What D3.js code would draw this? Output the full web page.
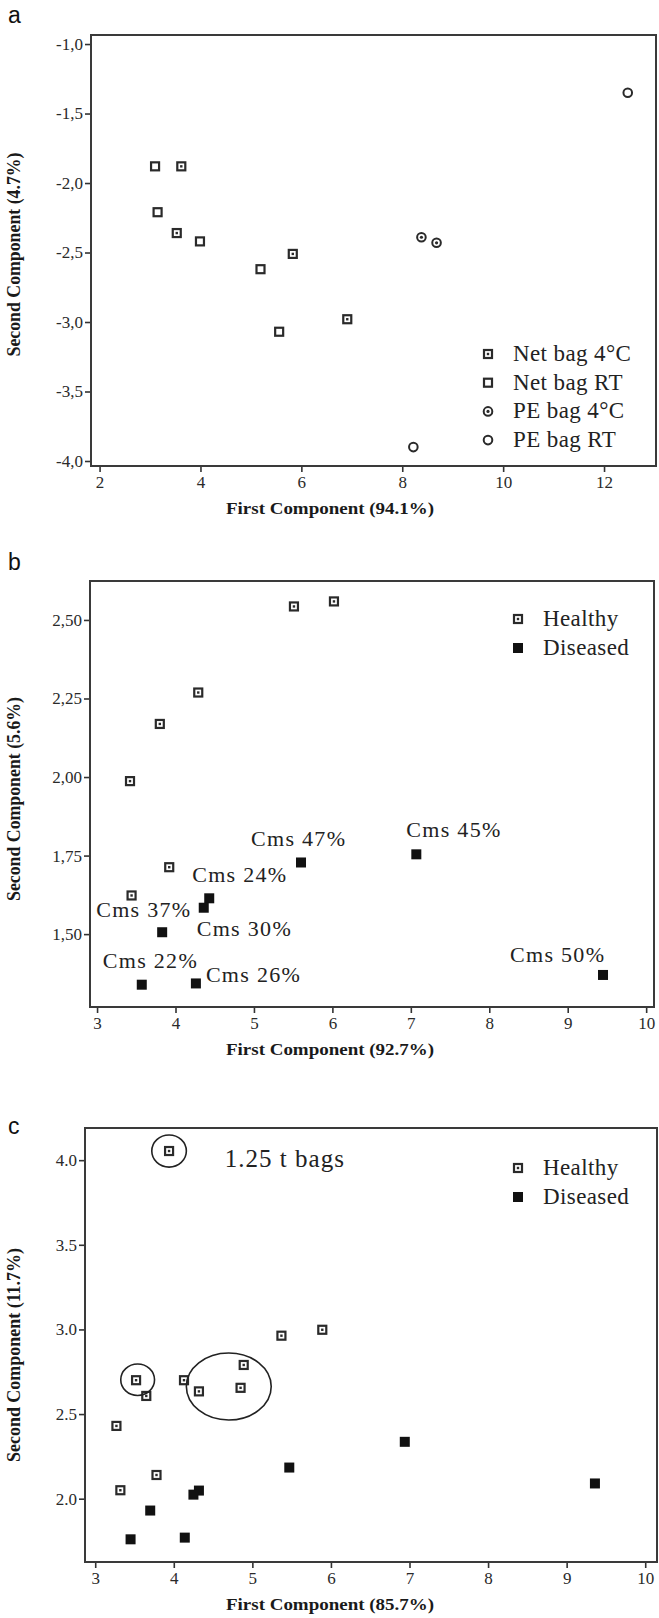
<!DOCTYPE html>
<html>
<head>
<meta charset="utf-8">
<script src="https://cdn.jsdelivr.net/npm/d3@7"></script>
<style>
  body { margin: 0; background: #fff; }
</style>
</head>
<body>
<script>
// ---- panel a : storage bags ----
const aXTicks = [2, 4, 6, 8, 10, 12];
const aYTicks = [-1.0, -1.5, -2.0, -2.5, -3.0, -3.5, -4.0];
const aNetBag4C = [[3.62, -1.88], [3.53, -2.36], [5.83, -2.51], [6.91, -2.98]];
const aNetBagRT = [[3.10, -1.88], [3.15, -2.21], [3.99, -2.42], [5.19, -2.62], [5.56, -3.07]];
const aPEBag4C = [[8.38, -2.39], [8.68, -2.43]];
const aPEBagRT = [[8.22, -3.90], [12.47, -1.35]];
const aLegend = ["Net bag 4°C", "Net bag RT", "PE bag 4°C", "PE bag RT"];

// ---- panel b : healthy vs diseased ----
const bXTicks = [3, 4, 5, 6, 7, 8, 9, 10];
const bYTicks = [2.50, 2.25, 2.00, 1.75, 1.50];
const bHealthy = [[5.51, 2.543], [6.02, 2.559], [4.29, 2.269], [3.80, 2.169], [3.42, 1.987], [3.92, 1.713], [3.44, 1.623]];
const bDiseased = [[5.60, 1.728], [7.07, 1.754], [4.43, 1.614], [4.36, 1.584], [3.83, 1.506], [3.57, 1.339], [4.26, 1.343], [9.45, 1.370]];
const bDiseasedLabels = ["Cms 47%", "Cms 45%", "Cms 24%", "Cms 30%", "Cms 37%", "Cms 22%", "Cms 26%", "Cms 50%"];

// ---- panel c : 1.25 t bags ----
const cXTicks = [3, 4, 5, 6, 7, 8, 9, 10];
const cYTicks = [4.0, 3.5, 3.0, 2.5, 2.0];
const cHealthy = [[3.94, 4.054], [3.52, 2.700], [3.65, 2.607], [3.27, 2.430], [4.13, 2.700], [4.32, 2.634],
  [4.89, 2.790], [4.85, 2.655], [5.37, 2.963], [5.89, 2.998], [3.78, 2.140], [3.32, 2.050]];
const cDiseased = [[6.94, 2.336], [5.47, 2.184], [9.36, 2.090], [4.32, 2.048], [4.25, 2.024], [3.70, 1.930], [3.45, 1.760], [4.14, 1.770]];
// ellipses drawn round groups of points: centre and radii in data units
const cRings = [[3.94, 4.054, 0.22, 0.095], [3.54, 2.703, 0.215, 0.093], [4.70, 2.663, 0.54, 0.198]];
const cNote = "1.25 t bags";
const cNoteAt = [4.65, 3.96];

const legendHD = ["Healthy", "Diseased"];

// offsets (px) of the Cms labels from their point
const bLabelOffsets = [[-50, -16], [-10, -17], [-17, -16], [-7, 28], [-66, -15], [-39, -17], [10, -1], [-93, -13]];

const serif = "'Liberation Serif', 'Times New Roman', serif";
const ink = "#2a2a2a";

const svg = d3.select("body")
  .append("svg")
  .attr("width", 659)
  .attr("height", 1618)
  .style("display", "block");

// markers
function drawSymbol(g, type, cx, cy) {
  if (type === "sq" || type === "sqDot") {
    g.append("rect")
      .attr("x", cx - 4).attr("y", cy - 4)
      .attr("width", 8).attr("height", 8)
      .attr("fill", "#fff")
      .attr("stroke", ink)
      .attr("stroke-width", 2.2);
    if (type === "sqDot") {
      g.append("rect")
        .attr("x", cx - 1.2).attr("y", cy - 1.2)
        .attr("width", 2.4).attr("height", 2.4)
        .attr("fill", ink);
    }
  } else if (type === "circ" || type === "circDot") {
    g.append("circle")
      .attr("cx", cx).attr("cy", cy).attr("r", 4.3)
      .attr("fill", "#fff")
      .attr("stroke", ink)
      .attr("stroke-width", 2);
    if (type === "circDot") {
      g.append("circle")
        .attr("cx", cx).attr("cy", cy).attr("r", 1.6)
        .attr("fill", ink);
    }
  } else if (type === "filled") {
    g.append("rect")
      .attr("x", cx - 5).attr("y", cy - 5)
      .attr("width", 10).attr("height", 10)
      .attr("fill", "#111");
  }
}

function drawPanel(p) {
  const x = d3.scaleLinear().domain(p.xDom).range([p.left, p.right]);
  const y = d3.scaleLinear().domain(p.yDom).range([p.bottom, p.top]);
  const g = svg.append("g");

  // panel letter
  g.append("text")
    .attr("x", 8).attr("y", p.ly)
    .text(p.letter)
    .style("font-family", "'Liberation Sans', Arial, sans-serif")
    .style("font-size", "23px")
    .style("fill", "#111");

  // axes
  const xAxis = g.append("g")
    .attr("transform", `translate(0,${p.bottom})`)
    .call(d3.axisBottom(x).tickValues(p.xTicks).tickFormat(d3.format("d")).tickSize(6).tickPadding(4));
  const yAxis = g.append("g")
    .attr("transform", `translate(${p.left},0)`)
    .call(d3.axisLeft(y).tickValues(p.yTicks).tickFormat(p.yFmt).tickSize(6).tickPadding(2));
  [xAxis, yAxis].forEach(a => {
    a.attr("font-family", serif).attr("font-size", 17);
    a.select(".domain").remove();
    a.selectAll("line").attr("stroke", "#333").attr("stroke-width", 1.6);
    a.selectAll("text")
      .attr("font-family", serif)
      .style("font-family", serif)
      .style("font-size", "17px")
      .style("fill", "#2a2a2a");
  });

  // frame
  g.append("rect")
    .attr("x", p.left).attr("y", p.top)
    .attr("width", p.right - p.left)
    .attr("height", p.bottom - p.top)
    .attr("fill", "none")
    .attr("stroke", "#3a3a3a")
    .attr("stroke-width", 2);

  // axis titles
  g.append("text")
    .attr("x", 330)
    .attr("y", p.bottom + 48)
    .attr("text-anchor", "middle")
    .attr("textLength", 208)
    .attr("lengthAdjust", "spacingAndGlyphs")
    .text(p.xTitle)
    .style("font-family", serif)
    .style("font-weight", "bold")
    .style("font-size", "17px")
    .style("fill", "#1a1a1a");
  g.append("text")
    .attr("transform", `translate(20,${(p.top + p.bottom) / 2 + p.yTitleShift}) rotate(-90)`)
    .attr("text-anchor", "middle")
    .attr("textLength", p.yTitleLen)
    .attr("lengthAdjust", "spacingAndGlyphs")
    .text(p.yTitle)
    .style("font-family", serif)
    .style("font-weight", "bold")
    .style("font-size", "18px")
    .style("fill", "#1a1a1a");

  return { g, x, y };
}

function legendRow(g, type, label, sx, sy) {
  drawSymbol(g, type, sx, sy);
  g.append("text")
    .attr("x", sx + 25).attr("y", sy + 7)
    .text(label)
    .style("font-family", serif)
    .style("font-size", "23px")
    .style("letter-spacing", "0.4px")
    .style("fill", "#222");
}

// ---------- panel a ----------
const pa = drawPanel({
  letter: "a", ly: 23,
  left: 91, top: 35, right: 656, bottom: 466,
  xDom: [1.83, 13.03], yDom: [-4.036, -0.935],
  xTicks: aXTicks, yTicks: aYTicks,
  yFmt: d => d.toFixed(1).replace(".", ","),
  xTitle: "First Component (94.1%)", yTitle: "Second Component (4.7%)",
  yTitleShift: 4, yTitleLen: 204
});
[[aNetBag4C, "sqDot"], [aNetBagRT, "sq"], [aPEBag4C, "circDot"], [aPEBagRT, "circ"]].forEach(([pts, type]) => {
  pts.forEach(d => drawSymbol(pa.g, type, pa.x(d[0]), pa.y(d[1])));
});
["sqDot", "sq", "circDot", "circ"].forEach((t, i) => legendRow(pa.g, t, aLegend[i], 488, 354 + i * 28.7));

// ---------- panel b ----------
const pb = drawPanel({
  letter: "b", ly: 570,
  left: 90, top: 581, right: 654, bottom: 1007,
  xDom: [2.91, 10.1], yDom: [1.268, 2.624],
  xTicks: bXTicks, yTicks: bYTicks,
  yFmt: d => d.toFixed(2).replace(".", ","),
  xTitle: "First Component (92.7%)", yTitle: "Second Component (5.6%)",
  yTitleShift: 5, yTitleLen: 204
});
bHealthy.forEach(d => drawSymbol(pb.g, "sqDot", pb.x(d[0]), pb.y(d[1])));
bDiseased.forEach(d => drawSymbol(pb.g, "filled", pb.x(d[0]), pb.y(d[1])));
bDiseased.forEach((d, i) => {
  pb.g.append("text")
    .attr("x", pb.x(d[0]) + bLabelOffsets[i][0])
    .attr("y", pb.y(d[1]) + bLabelOffsets[i][1])
    .text(bDiseasedLabels[i])
    .style("font-family", serif)
    .style("font-size", "22px")
    .style("letter-spacing", "1.3px")
    .style("fill", "#222");
});
legendRow(pb.g, "sqDot", legendHD[0], 518, 619);
legendRow(pb.g, "filled", legendHD[1], 518, 648);

// ---------- panel c ----------
const pc = drawPanel({
  letter: "c", ly: 1134,
  left: 85, top: 1128, right: 657, bottom: 1562,
  xDom: [2.87, 10.15], yDom: [1.626, 4.19],
  xTicks: cXTicks, yTicks: cYTicks,
  yFmt: d => d.toFixed(1),
  xTitle: "First Component (85.7%)", yTitle: "Second Component (11.7%)",
  yTitleShift: 10, yTitleLen: 214
});
cHealthy.forEach(d => drawSymbol(pc.g, "sqDot", pc.x(d[0]), pc.y(d[1])));
cDiseased.forEach(d => drawSymbol(pc.g, "filled", pc.x(d[0]), pc.y(d[1])));
cRings.forEach(r => {
  pc.g.append("ellipse")
    .attr("cx", pc.x(r[0])).attr("cy", pc.y(r[1]))
    .attr("rx", pc.x(r[0] + r[2]) - pc.x(r[0]))
    .attr("ry", pc.y(r[1]) - pc.y(r[1] + r[3]))
    .attr("fill", "none")
    .attr("stroke", "#222")
    .attr("stroke-width", 1.6);
});
pc.g.append("text")
  .attr("x", pc.x(cNoteAt[0])).attr("y", pc.y(cNoteAt[1]))
  .text(cNote)
  .style("font-family", serif)
  .style("font-size", "25px")
  .style("letter-spacing", "1px")
  .style("fill", "#222");
legendRow(pc.g, "sqDot", legendHD[0], 518, 1168);
legendRow(pc.g, "filled", legendHD[1], 518, 1197);
</script>
</body>
</html>
